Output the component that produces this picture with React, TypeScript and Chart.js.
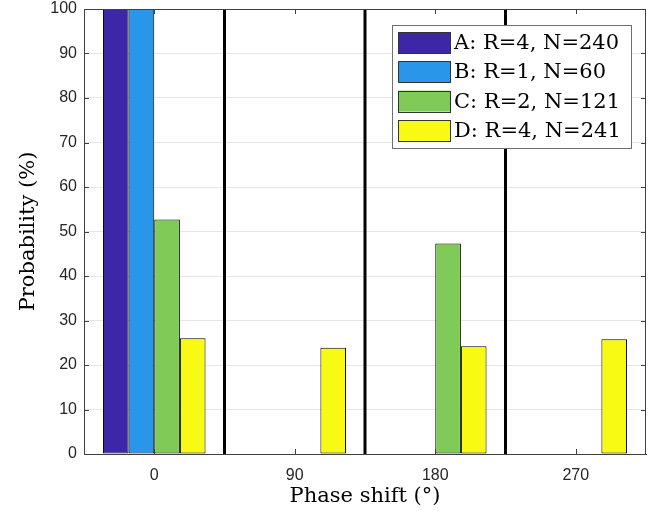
import React, { useEffect, useRef } from "react";
import { Chart, registerables } from "chart.js";
Chart.register(...registerables);

const categories = ["0", "90", "180", "270"];
const seriesLabels = ["A: R=4, N=240", "B: R=1, N=60", "C: R=2, N=121", "D: R=4, N=241"];
const seriesA = [100, 0, 0, 0];
const seriesB = [100, 0, 0, 0];
const seriesC = [52.7, 0, 47.3, 0];
const seriesD = [26.0, 23.9, 24.2, 25.8];
const seriesColors = ["#3E26A8", "#2A96EA", "#80CB58", "#F8FA14"];
const xTitle = "Phase shift (°)";
const yTitle = "Probability (%)";
const yMin = 0;
const yMax = 100;
const yStep = 10;

const axisColor = "#404040";

const decorPlugin = {
  id: "decor",
  beforeDatasetsDraw(chart: any) {
    const { ctx, chartArea: ca, scales } = chart;
    const xs = scales.x;
    ctx.save();
    ctx.strokeStyle = "#000";
    ctx.lineWidth = 3;
    for (let i = 0; i < categories.length - 1; i++) {
      const px = (xs.getPixelForValue(i) + xs.getPixelForValue(i + 1)) / 2;
      ctx.beginPath();
      ctx.moveTo(px, ca.top);
      ctx.lineTo(px, ca.bottom);
      ctx.stroke();
    }
    ctx.restore();
  },
  afterDatasetsDraw(chart: any) {
    const { ctx, chartArea: ca, scales } = chart;
    const xs = scales.x;
    const ys = scales.y;
    ctx.save();
    ctx.strokeStyle = axisColor;
    ctx.lineWidth = 1;
    ctx.beginPath();
    ctx.moveTo(ca.left, ca.top + 0.5);
    ctx.lineTo(ca.right, ca.top + 0.5);
    ctx.moveTo(ca.right - 0.5, ca.top);
    ctx.lineTo(ca.right - 0.5, ca.bottom);
    ctx.stroke();
    const tl = 5;
    ctx.beginPath();
    ys.ticks.forEach((t: any) => {
      const py = Math.round(ys.getPixelForValue(t.value)) + 0.5;
      ctx.moveTo(ca.left, py);
      ctx.lineTo(ca.left + tl, py);
      ctx.moveTo(ca.right, py);
      ctx.lineTo(ca.right - tl, py);
    });
    categories.forEach((_, i) => {
      const px = Math.round(xs.getPixelForValue(i)) + 0.5;
      ctx.moveTo(px, ca.bottom);
      ctx.lineTo(px, ca.bottom - tl);
      ctx.moveTo(px, ca.top);
      ctx.lineTo(px, ca.top + tl);
    });
    ctx.stroke();

    // legend
    const boxW = 239;
    const boxH = 123;
    const lx = ca.right - 15 - boxW;
    const ly = ca.top + 16;
    ctx.fillStyle = "#fff";
    ctx.fillRect(lx, ly, boxW, boxH);
    ctx.strokeStyle = "#707070";
    ctx.lineWidth = 1;
    ctx.strokeRect(Math.round(lx) + 0.5, Math.round(ly) + 0.5, boxW, boxH);
    ctx.font = "21px 'DejaVu Serif'";
    ctx.textBaseline = "middle";
    ctx.textAlign = "left";
    const rowH = 29.3;
    chart.data.datasets.forEach((ds: any, i: number) => {
      const sy = ly + 7 + i * rowH;
      ctx.fillStyle = ds.backgroundColor;
      ctx.fillRect(lx + 6, sy, 52, 21);
      ctx.strokeStyle = "#333";
      ctx.strokeRect(Math.round(lx + 6) + 0.5, Math.round(sy) + 0.5, 52, 21);
      ctx.fillStyle = "#000";
      ctx.fillText(ds.label, lx + 62, sy + 11.5);
    });
    ctx.restore();
  },
};

export default function App() {
  const ref = useRef<HTMLCanvasElement>(null);
  useEffect(() => {
    if (!ref.current) return;
    const series = [seriesA, seriesB, seriesC, seriesD];
    const chart = new Chart(ref.current, {
      type: "bar",
      data: {
        labels: categories,
        datasets: series.map((d, i) => ({
          label: seriesLabels[i],
          data: d,
          backgroundColor: seriesColors[i],
          borderColor: "#000",
          borderWidth: 1,
          borderSkipped: false,
          categoryPercentage: 0.73,
          barPercentage: 1,
        })),
      },
      options: {
        responsive: false,
        animation: false,
        layout: { padding: { top: 9, right: 16, left: 0, bottom: 0 } },
        plugins: { legend: { display: false }, tooltip: { enabled: false } },
        scales: {
          x: {
            type: "category",
            offset: true,
            grid: { display: false, drawTicks: false },
            border: { display: true, color: axisColor, width: 1 },
            ticks: {
              font: { family: "'Liberation Sans', Arial, sans-serif", size: 16 },
              color: "#262626",
              padding: 12,
              maxRotation: 0,
            },
            title: {
              display: true,
              text: xTitle,
              font: { family: "'DejaVu Serif', serif", size: 21 },
              color: "#000",
              padding: { top: 0, bottom: 2 },
            },
            afterFit: (s: any) => {
              s.height = 57;
              s.paddingLeft = 0;
              s.paddingRight = 0;
            },
          },
          y: {
            min: yMin,
            max: yMax,
            grid: { color: "#e6e6e6", drawTicks: false },
            border: { display: true, color: axisColor, width: 1 },
            ticks: {
              stepSize: yStep,
              font: { family: "'Liberation Sans', Arial, sans-serif", size: 16 },
              color: "#262626",
              padding: 7,
            },
            title: {
              display: true,
              text: yTitle,
              font: { family: "'DejaVu Serif', serif", size: 21 },
              color: "#000",
              padding: { top: 16, bottom: 0 },
            },
            afterFit: (s: any) => {
              s.width = 84;
              s.paddingTop = 0;
              s.paddingBottom = 0;
            },
          },
        },
      },
      plugins: [decorPlugin],
    } as any);
    return () => chart.destroy();
  }, []);
  return (
    <div style={{ position: "absolute", left: 0, top: 0, width: 662, height: 511, background: "#fff" }}>
      <canvas ref={ref} width={662} height={511} style={{ display: "block" }} />
    </div>
  );
}
